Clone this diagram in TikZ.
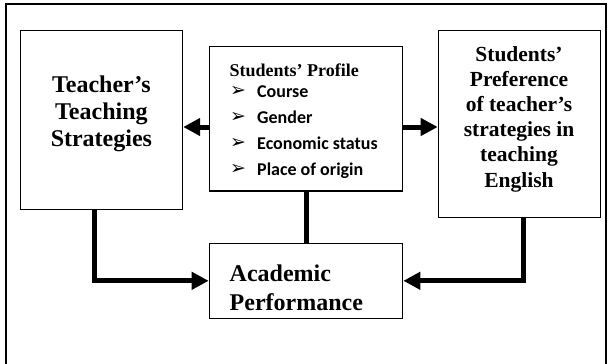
\documentclass[tikz,border=0pt]{standalone}
\usepackage{fontspec}
\setmainfont{Liberation Serif}
\newfontfamily\calibrifont{Carlito}
\newfontfamily\dejavufont{DejaVu Sans}
\usetikzlibrary{arrows.meta,calc}
\newcommand{\bul}{\makebox[27pt][l]{\raisebox{0.5pt}{\dejavufont\mdseries\fontsize{19}{19}\selectfont ➢}}}
\begin{document}
\begin{tikzpicture}[x=1pt,y=-1pt,
  box/.style={draw,line width=1.4pt,inner sep=0pt,fill=white},
  conn/.style={line width=5pt},
  arr/.style={conn,-{Triangle[length=17pt,width=17pt]}},
  frame/.style={line width=1.4pt},
  lbl/.style={inner sep=0pt,font=\bfseries}]
\fill[white] (0,0) rectangle (611,364);
\useasboundingbox (0,0) rectangle (611,364);
\draw[frame] (6,372) -- (6,4) -- (606,4) -- (606,372);
% boxes
\node[box,minimum width=162.2pt,minimum height=178.6pt] (lbox) at (101.4,120) {};
\node[box,minimum width=193.3pt,minimum height=144.3pt] (cbox) at (306,118.8) {};
\node[box,minimum width=161.8pt,minimum height=186.6pt] (rbox) at (519.3,124) {};
\node[box,minimum width=193.3pt,minimum height=75pt] (bbox) at (306,280.8) {};
% texts
\node[lbl,align=center,font=\bfseries\fontsize{24}{27}\selectfont] (ltext) at (101.4,114) {Teacher’s\\Teaching\\Strategies};
\node[lbl,align=center,font=\bfseries\fontsize{21.5}{25.2}\selectfont] (rtext) at (519,119) {Students’\\Preference\\of teacher’s\\strategies in\\teaching\\English};
\node[lbl,anchor=west,font=\bfseries\fontsize{18}{20}\selectfont] (ctitle) at (229.5,70) {Students’ Profile};
\node[lbl,anchor=west,align=left,font=\calibrifont\bfseries\fontsize{18}{26}\selectfont] (clist) at (230,132)
  {\bul Course\\ \bul Gender\\ \bul Economic status\\ \bul Place of origin};
\node[lbl,anchor=west,align=left,font=\bfseries\fontsize{24}{28.5}\selectfont] (btext) at (229.5,288) {Academic\\Performance};
% connectors
\coordinate (ya) at (0,127);
\draw[arr] (cbox.west |- ya) -- (lbox.east |- ya);
\draw[arr] (cbox.east |- ya) -- (rbox.west |- ya);
\draw[conn] (cbox.south) -- (bbox.north);
\draw[arr] ($(lbox.south west)+(75,0)$) |- (bbox.west);
\draw[arr] ($(rbox.south west)+(86,0)$) |- (bbox.east);
\end{tikzpicture}
\end{document}
